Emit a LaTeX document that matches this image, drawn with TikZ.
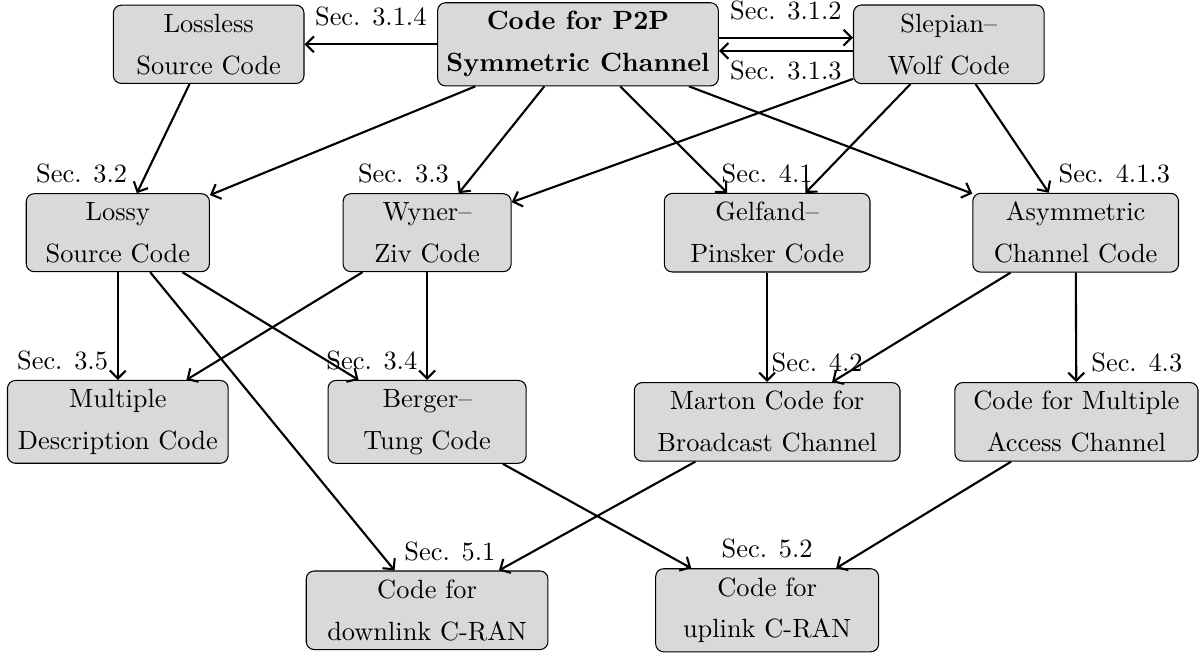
\documentclass[tikz,border=0pt]{standalone}
\usepackage{amsmath}
\usepackage{amssymb}
\usepackage{tikz}
\usetikzlibrary{arrows.meta}

\begin{document}
\begin{tikzpicture}[thick, >={Straight Barb[length=3pt, width=6pt]}, every node/.style={align=center, font={\linespread{1.32}\selectfont}},
code/.style={draw, line width=0.4pt, rounded corners=3pt, fill=black!15}]
\useasboundingbox (0,0) rectangle (16,-8.74);

\node[code, minimum width=2.54cm] (lossless) at (2.78,-0.59) {Lossless\\Source Code};
\node[code] (p2p) at (7.70,-0.59) {\textbf{Code for P2P}\\\textbf{Symmetric Channel}};
\node[code, minimum width=2.54cm] (sw) at (12.64,-0.59) {Slepian--\\Wolf Code};

\node[code, minimum width=2.44cm] (lossy) at (1.57,-3.10) {Lossy\\Source Code};
\node[code, minimum width=2.24cm] (wz) at (5.69,-3.10) {Wyner--\\Ziv Code};
\node[code, minimum width=2.74cm] (gp) at (10.22,-3.10) {Gelfand--\\Pinsker Code};
\node[code, minimum width=2.74cm] (asym) at (14.33,-3.10) {Asymmetric\\Channel Code};

\node[code, minimum width=2.94cm] (mdc) at (1.57,-5.62) {Multiple\\Description Code};
\node[code, minimum width=2.64cm] (bt) at (5.69,-5.62) {Berger--\\Tung Code};
\node[code, minimum width=3.54cm] (marton) at (10.22,-5.62) {Marton Code for\\Broadcast Channel};
\node[code, minimum width=3.24cm] (mac) at (14.34,-5.62) {Code for Multiple\\Access Channel};

\node[code, minimum width=3.22cm] (dl) at (5.69,-8.13) {Code for\\downlink C-RAN};
\node[code, minimum width=2.97cm] (ul) at (10.22,-8.13) {Code for\\uplink C-RAN};

\draw[->] (p2p) -- node[above=3pt]{Sec. 3.1.4} (lossless);
\draw[->] ([yshift=2.5pt]p2p.east) -- node[above=3pt]{Sec. 3.1.2} ([yshift=2.5pt]sw.west);
\draw[->] ([yshift=-2.5pt]sw.west) -- node[below]{Sec. 3.1.3} ([yshift=-2.5pt]p2p.east);

\draw[->] (lossless) -- node[pos=1, above left]{Sec. 3.2} (lossy);
\draw[->] (p2p) -- (lossy);
\draw[->] (p2p) -- node[pos=1, above left]{Sec. 3.3} (wz);
\draw[->] (p2p) -- (gp);
\draw[->] (p2p) -- (asym);
\draw[->] (sw) -- (wz);
\draw[->] (sw) -- (gp);
\draw[->] (sw) -- node[pos=1, above right]{Sec. 4.1.3} (asym);
\node[above] (s41) at (gp.north) {Sec. 4.1};

\draw[->] (lossy) -- node[pos=1, above left]{Sec. 3.5} (mdc);
\draw[->] (lossy) -- (bt);
\draw[->] (lossy) -- node[pos=1, above right]{Sec. 5.1} (dl);
\draw[->] (wz) -- (mdc);
\draw[->] (wz) -- node[pos=1, above left]{Sec. 3.4} (bt);
\draw[->] (gp) -- node[pos=1, above right, xshift=-2pt]{Sec. 4.2} (marton);
\draw[->] (asym) -- (marton);
\draw[->] (asym) -- node[pos=1, above right, xshift=2pt]{Sec. 4.3} (mac);

\draw[->] (bt) -- (ul);
\draw[->] (marton) -- (dl);
\draw[->] (mac) -- (ul);
\node[above] (s52) at (ul.north) {Sec. 5.2};

\end{tikzpicture}
\end{document}
